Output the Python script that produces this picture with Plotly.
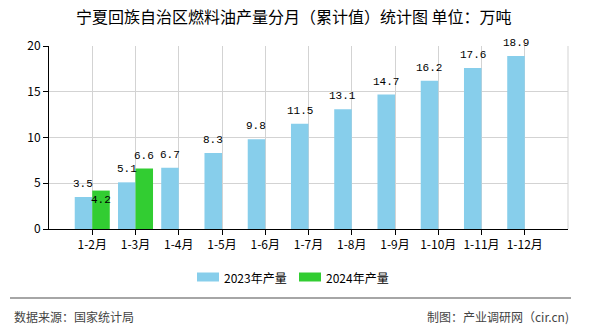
import plotly.graph_objects as go

categories = ["1-2月", "1-3月", "1-4月", "1-5月", "1-6月", "1-7月", "1-8月", "1-9月", "1-10月", "1-11月", "1-12月"]
values_2023 = [3.5, 5.1, 6.7, 8.3, 9.8, 11.5, 13.1, 14.7, 16.2, 17.6, 18.9]
values_2024 = [4.2, 6.6, None, None, None, None, None, None, None, None, None]
inside_2024 = [True, False, False, False, False, False, False, False, False, False, False]
series_names = ["2023年产量", "2024年产量"]
series_colors = ["#87CEEB", "#32CD32"]
y_ticks = [0, 5, 10, 15, 20]

title_text = "宁夏回族自治区燃料油产量分月（累计值）统计图 单位：万吨"
source_text = "数据来源：国家统计局"
credit_text = "制图：产业调研网（cir.cn)"

W, H = 590, 330
L, R, T, B = 49, 568, 46, 229


def px(x):
    return (x - L) / (R - L)


def py(y):
    return (B - y) / (B - T)


cjk = "Noto Sans CJK SC"
num_font = dict(family="Liberation Mono", size=11, color="#000")
half_bar_px = 8.8

fig = go.Figure()
fig.add_trace(go.Bar(
    x=categories, y=values_2023, name=series_names[0],
    marker=dict(color=series_colors[0], line=dict(width=0)),
    showlegend=False, hoverinfo="x+y",
))
fig.add_trace(go.Bar(
    x=categories, y=values_2024, name=series_names[1],
    marker=dict(color=series_colors[1], line=dict(width=0)),
    showlegend=False, hoverinfo="x+y",
))

label_annotations = []
for c, v in zip(categories, values_2023):
    label_annotations.append(dict(
        x=c, y=v, xref="x", yref="y", text=f"{v:.1f}", showarrow=False,
        xanchor="center", yanchor="bottom", xshift=-half_bar_px, yshift=5,
        font=num_font))
for c, v, ins in zip(categories, values_2024, inside_2024):
    if v is None:
        continue
    label_annotations.append(dict(
        x=c, y=v, xref="x", yref="y", text=f"{v:.1f}", showarrow=False,
        xanchor="center", yanchor="top" if ins else "bottom",
        xshift=half_bar_px, yshift=-1 if ins else 5,
        font=num_font))

fig.update_layout(
    width=W, height=H,
    margin=dict(l=L, r=W - R, t=T, b=H - B),
    paper_bgcolor="white", plot_bgcolor="white",
    barmode="group", bargap=0.19, bargroupgap=0,
    font=dict(family=cjk, size=12, color="#000"),
    xaxis=dict(
        type="category", range=[-1, 11],
        showgrid=True, gridcolor="#d3d3d3", gridwidth=1,
        showline=True, linecolor="#000", linewidth=1,
        ticks="outside", ticklen=5, tickcolor="#000",
        tickfont=dict(family=cjk, size=12, color="#000"),
        fixedrange=True,
    ),
    yaxis=dict(
        range=[0, 20], tickvals=y_ticks,
        showgrid=True, gridcolor="#d3d3d3", gridwidth=1,
        showline=True, linecolor="#000", linewidth=1,
        ticks="outside", ticklen=5, tickcolor="#000",
        tickfont=dict(family=cjk, size=12, color="#000"),
        zeroline=False, fixedrange=True,
    ),
    shapes=[
        dict(type="line", xref="paper", yref="paper", x0=1, x1=1, y0=0, y1=1,
             line=dict(color="#d3d3d3", width=1)),
        dict(type="line", xref="paper", yref="paper", x0=px(10), x1=px(571),
             y0=py(298), y1=py(298), line=dict(color="#888", width=1.5)),
        dict(type="rect", xref="paper", yref="paper", x0=px(197), x1=px(219),
             y0=py(281.5), y1=py(272.5), fillcolor=series_colors[0], line=dict(width=0)),
        dict(type="rect", xref="paper", yref="paper", x0=px(299), x1=px(321),
             y0=py(281.5), y1=py(272.5), fillcolor=series_colors[1], line=dict(width=0)),
    ],
    annotations=label_annotations + [
        dict(text=title_text, xref="paper", yref="paper", x=px(294), y=py(16),
             xanchor="center", yanchor="middle", showarrow=False,
             font=dict(family=cjk, size=16, color="#000")),
        dict(text=series_names[0], xref="paper", yref="paper", x=px(222), y=py(277),
             xanchor="left", yanchor="middle", showarrow=False,
             font=dict(family=cjk, size=12, color="#000")),
        dict(text=series_names[1], xref="paper", yref="paper", x=px(324), y=py(277),
             xanchor="left", yanchor="middle", showarrow=False,
             font=dict(family=cjk, size=12, color="#000")),
        dict(text=source_text, xref="paper", yref="paper", x=px(12), y=py(316),
             xanchor="left", yanchor="middle", showarrow=False,
             font=dict(family=cjk, size=12, color="#444")),
        dict(text=credit_text, xref="paper", yref="paper", x=px(571), y=py(316),
             xanchor="right", yanchor="middle", showarrow=False,
             font=dict(family=cjk, size=12, color="#444")),
    ],
)

fig.write_html("out.html")
